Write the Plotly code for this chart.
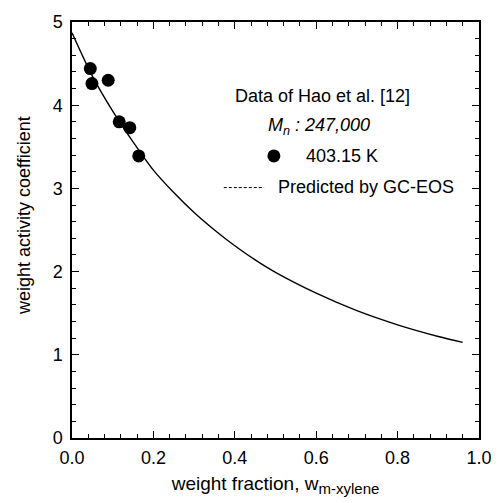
import plotly.graph_objects as go

# measured data (Hao et al.)
data_x = [0.045, 0.049, 0.089, 0.116, 0.142, 0.164]
data_y = [4.44, 4.26, 4.30, 3.80, 3.73, 3.39]

# GC-EOS prediction curve
curve_x = [0.0, 0.05, 0.10, 0.15, 0.20, 0.25, 0.30, 0.35, 0.40, 0.45, 0.50, 0.60, 0.70, 0.80, 0.90, 0.96]
curve_y = [4.87, 4.35, 3.93, 3.56, 3.22, 2.95, 2.71, 2.50, 2.31, 2.14, 1.99, 1.74, 1.53, 1.36, 1.22, 1.15]

FONT = "Liberation Sans, Arial, sans-serif"

fig = go.Figure()
fig.add_trace(go.Scatter(x=curve_x, y=curve_y, mode="lines",
                         line=dict(color="black", width=1.4, shape="spline", smoothing=0.8),
                         showlegend=False, hoverinfo="skip"))
fig.add_trace(go.Scatter(x=data_x, y=data_y, mode="markers",
                         marker=dict(color="black", size=13, symbol="circle"),
                         showlegend=False))

axis_common = dict(showline=True, linecolor="black", linewidth=1.5, mirror="ticks",
                   ticks="inside", ticklen=7, tickwidth=1, tickcolor="black",
                   showgrid=False, zeroline=False,
                   tickfont=dict(family=FONT, size=18, color="black"))

fig.update_xaxes(range=[0, 1.0], dtick=0.2, tickformat=".1f", ticklabelstandoff=3,
                 minor=dict(dtick=0.04, ticks="inside", ticklen=4, tickcolor="black"),
                 title=dict(text="weight fraction, w<sub><span style='font-size:15px'>m-xylene</span></sub>",
                            font=dict(family=FONT, size=19, color="black"), standoff=9),
                 **axis_common)
fig.update_yaxes(range=[0, 5], dtick=1, ticklabelstandoff=4,
                 minor=dict(dtick=0.2, ticks="inside", ticklen=4, tickcolor="black"),
                 **axis_common)

# y-axis title placed as annotation (slightly above center as in reference)
fig.add_annotation(xref="paper", yref="paper", x=-0.118, y=0.536,
                   text="weight activity coefficient", textangle=-90, showarrow=False,
                   xanchor="center", yanchor="middle",
                   font=dict(family=FONT, size=18, color="black"))

# legend-like annotation block
tf = dict(family=FONT, size=18, color="black")
fig.add_annotation(x=0.616, y=4.11, text="Data of Hao et al. [12]", showarrow=False,
                   xanchor="center", yanchor="middle", font=tf)
fig.add_annotation(x=0.608, y=3.74, text="<i>M<sub>n</sub> : 247,000</i>", showarrow=False,
                   xanchor="center", yanchor="middle", font=tf)
fig.add_annotation(x=0.569, y=3.39, text="403.15 K", showarrow=False,
                   xanchor="left", yanchor="middle", font=tf)
fig.add_annotation(x=0.501, y=3.02, text="Predicted by GC-EOS", showarrow=False,
                   xanchor="left", yanchor="middle", font=tf)

fig.add_shape(type="circle", xref="x", yref="y", xsizemode="pixel", ysizemode="pixel",
              xanchor=0.496, yanchor=3.39, x0=-6.5, x1=6.5, y0=-6.5, y1=6.5,
              fillcolor="black", line=dict(color="black", width=0))
fig.add_shape(type="line", xref="x", yref="y", x0=0.373, x1=0.472, y0=3.01, y1=3.01,
              line=dict(color="black", width=1, dash="3px,2px"))

fig.update_layout(width=504, height=503, margin=dict(l=72, r=17, t=21, b=62),
                  paper_bgcolor="white", plot_bgcolor="white",
                  font=dict(family=FONT, color="black"))

fig.write_html("out.html")
